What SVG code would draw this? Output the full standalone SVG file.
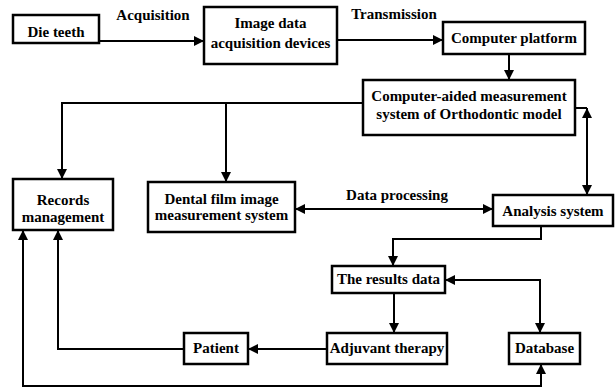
<svg xmlns="http://www.w3.org/2000/svg" width="615" height="388" viewBox="0 0 615 388" font-family="'Liberation Serif', 'DejaVu Serif', serif">
<defs>
<marker id="ah" viewBox="0 0 10 10" refX="10" refY="5" markerWidth="10" markerHeight="10" markerUnits="userSpaceOnUse" orient="auto-start-reverse">
<path d="M0,0 L10,5 L0,10 z" fill="#000"/>
</marker>
<style>
.box{fill:#fff;stroke:#000;stroke-width:2.5}
.t{font-family:'Liberation Serif','DejaVu Serif',serif;font-size:15px;font-weight:bold;text-anchor:middle;fill:#000}
.c{fill:none;stroke:#000;stroke-width:2}
.e{marker-end:url(#ah)}
.s{marker-start:url(#ah)}
</style>
</defs>
<rect width="615" height="388" fill="#fff"/>
<g id="connectors">
<path class="c e" d="M99,41 H204"/>
<path class="c e" d="M337,40 H443"/>
<path class="c e" d="M509,54 V80"/>
<path class="c e" d="M363,103 H62 V179"/>
<path class="c e" d="M226,103 V182"/>
<path class="c" d="M575,108 H587"/>
<path class="c e s" d="M587,108 V195"/>
<path class="c e s" d="M295,209 H493"/>
<path class="c e" d="M541,226 V239 H393 V266"/>
<path class="c e" d="M394,293 V333"/>
<path class="c e s" d="M445,280 H540 V333"/>
<path class="c e" d="M327,349 H248"/>
<path class="c e" d="M184,349 H58 V230"/>
<path class="c e s" d="M23,230 V386 H541 V364"/>
<text class="t" x="153" y="20">Acquisition</text>
<text class="t" x="394" y="19">Transmission</text>
<text class="t" x="397" y="200">Data processing</text>
</g>
<g id="die-teeth"><rect class="box" x="13" y="15" width="86" height="28"/><text class="t" x="56" y="37">Die teeth</text></g>
<g id="image-data"><rect class="box" x="204" y="7" width="133" height="57"/><text class="t" x="270.500" y="28">Image data</text><text class="t" x="270.500" y="48">acquisition devices</text></g>
<g id="computer-platform"><rect class="box" x="443" y="22" width="142" height="32"/><text class="t" x="514" y="43">Computer platform</text></g>
<g id="cam-system"><rect class="box" x="363" y="80" width="212" height="55"/><text class="t" x="469" y="101">Computer-aided measurement</text><text class="t" x="469" y="119">system of Orthodontic model</text></g>
<g id="records"><rect class="box" x="13" y="179" width="100" height="51"/><text class="t" x="63" y="205">Records</text><text class="t" x="63" y="222">management</text></g>
<g id="dental-film"><rect class="box" x="148" y="182" width="147" height="50"/><text class="t" x="221.500" y="204">Dental film image</text><text class="t" x="221.500" y="220">measurement system</text></g>
<g id="analysis"><rect class="box" x="493" y="195" width="120" height="31"/><text class="t" x="553" y="216">Analysis system</text></g>
<g id="results"><rect class="box" x="332" y="266" width="113" height="27"/><text class="t" x="388.500" y="284">The results data</text></g>
<g id="adjuvant"><rect class="box" x="327" y="333" width="120" height="31"/><text class="t" x="387" y="353">Adjuvant therapy</text></g>
<g id="patient"><rect class="box" x="184" y="333" width="64" height="31"/><text class="t" x="216" y="353">Patient</text></g>
<g id="database"><rect class="box" x="509" y="333" width="71" height="31"/><text class="t" x="544.500" y="353">Database</text></g>
</svg>
